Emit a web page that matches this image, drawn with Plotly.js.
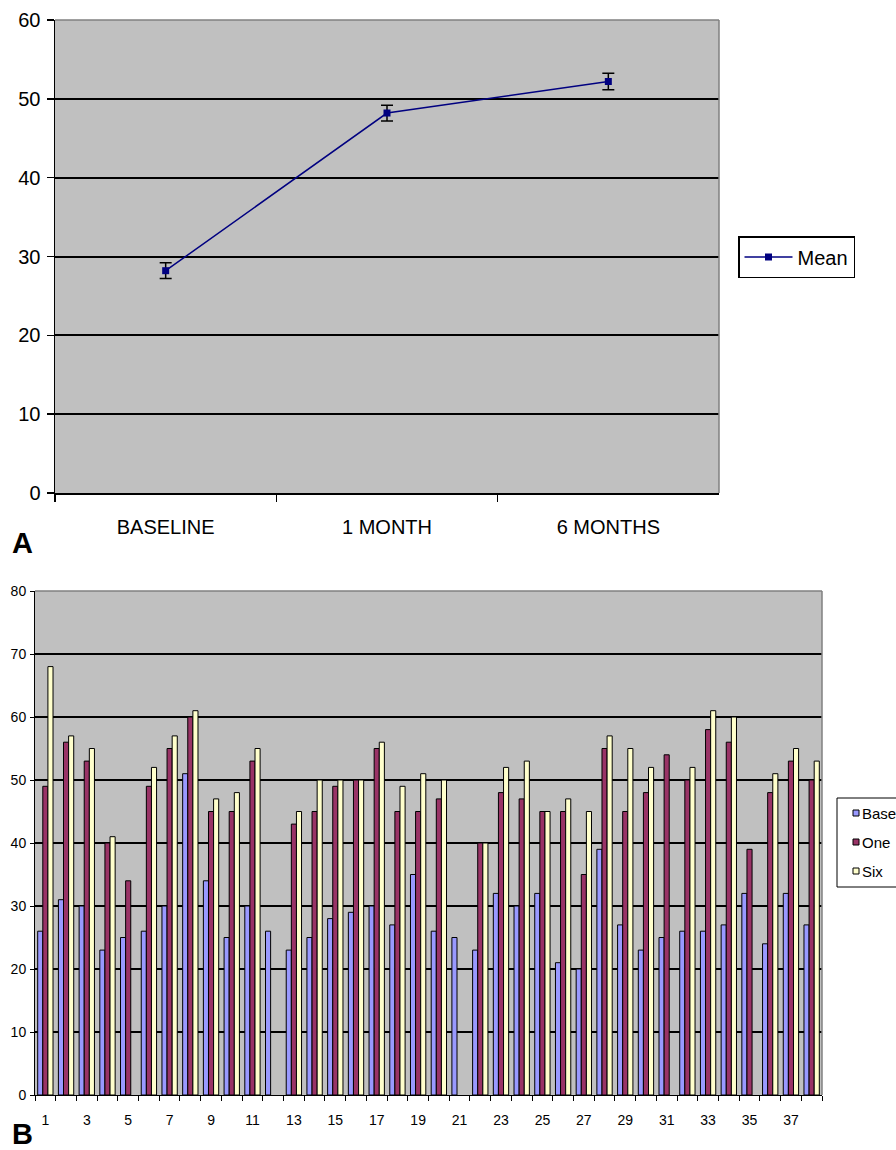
<!DOCTYPE html>
<html>
<head>
<meta charset="utf-8">
<script src="https://cdn.plot.ly/plotly-3.0.1.min.js"></script>
<style>html,body{margin:0;padding:0;background:#fff;}#chart{width:896px;height:1150px;}</style>
</head>
<body>
<div id="chart"></div>
<script>
// ---- Panel A data ----
const timepoints = ['BASELINE', '1 MONTH', '6 MONTHS'];
const meanValues = [28.2, 48.2, 52.2];
const meanErrors = [1.0, 1.0, 1.05];

// ---- Panel B data ----
const subjects = ['1','2','3','4','5','6','7','8','9','10','11','12','13','14','15','16','17','18','19','20','21','22','23','24','25','26','27','28','29','30','31','32','33','34','35','36','37','38'];
const baseValues = [26,31,30,23,25,26,30,51,34,25,30,26,23,25,28,29,30,27,35,26,25,23,32,30,32,21,20,39,27,23,25,26,26,27,32,24,32,27];
const oneValues  = [49,56,53,40,34,49,55,60,45,45,53,null,43,45,49,50,55,45,45,47,null,40,48,47,45,45,35,55,45,48,54,50,58,56,39,48,53,50];
const sixValues  = [68,57,55,41,null,52,57,61,47,48,55,null,45,50,50,50,56,49,51,50,null,40,52,53,45,47,45,57,55,52,null,52,61,60,null,51,55,53];
const seriesNames = ['Base', 'One', 'Six'];
const seriesColors = ['#9999FF', '#993366', '#FFFFCC'];

const FONT = 'Liberation Sans, Arial, sans-serif';
const W = 896, H = 1150;

const traces = [
  {
    type: 'scatter', mode: 'lines+markers', name: 'Mean',
    x: timepoints, y: meanValues,
    error_y: {type: 'data', array: meanErrors, visible: true, color: '#000000', thickness: 1.5, width: 6},
    line: {color: '#000080', width: 1.5},
    marker: {symbol: 'square', size: 7, color: '#000080'},
    xaxis: 'x', yaxis: 'y', legend: 'legend'
  }
];
const barSeries = [baseValues, oneValues, sixValues];
barSeries.forEach((vals, i) => {
  traces.push({
    type: 'bar', name: seriesNames[i], x: subjects, y: vals,
    marker: {color: seriesColors[i], line: {color: '#000000', width: 1}},
    xaxis: 'x2', yaxis: 'y2', showlegend: false
  });
});

const dA = {x0: 55 / W, x1: 719 / W, y0: 1 - 493 / H, y1: 1 - 20 / H};
const dB = {x0: 35 / W, x1: 822 / W, y0: 1 - 1095 / H, y1: 1 - 591 / H};

// Legend for panel B (drawn as shapes + text, like the original's clipped box)
const legB = {left: 837 / W, top: 1 - 798 / H, bottom: 1 - 887 / H, sq: 853, rowY: [813, 842, 871]};
const legendShapes = [
  {type: 'rect', xref: 'paper', yref: 'paper', x0: legB.left, x1: 1.05, y0: legB.bottom, y1: legB.top,
   line: {color: '#000000', width: 1}, fillcolor: '#ffffff'}
];
const legendTexts = [];
seriesNames.forEach((n, i) => {
  const cy = legB.rowY[i];
  legendShapes.push({type: 'rect', xref: 'paper', yref: 'paper',
    x0: legB.sq / W, x1: (legB.sq + 6) / W, y0: 1 - (cy + 3) / H, y1: 1 - (cy - 3) / H,
    line: {color: '#000000', width: 1}, fillcolor: seriesColors[i]});
  legendTexts.push({text: n, xref: 'paper', yref: 'paper', x: 860 / W, y: 1 - cy / H,
    xanchor: 'left', yanchor: 'middle', showarrow: false, font: {size: 15, family: FONT, color: '#000'}});
});

const layout = {
  width: W, height: H,
  margin: {l: 0, r: 0, t: 0, b: 0, autoexpand: false},
  paper_bgcolor: '#ffffff', plot_bgcolor: '#C0C0C0',
  font: {family: FONT, color: '#000000'},
  barmode: 'group', bargap: 0.26, bargroupgap: 0,
  xaxis: {
    domain: [dA.x0, dA.x1], anchor: 'y', type: 'category',
    range: [-0.5, 2.5], tickson: 'boundaries', ticks: 'outside', ticklen: 7,
    tickcolor: '#000', tickwidth: 1.5, showline: true, linecolor: '#000', linewidth: 1.5,
    showgrid: false, tickfont: {size: 20, family: FONT}, ticklabelstandoff: 15
  },
  yaxis: {
    domain: [dA.y0, dA.y1], anchor: 'x', range: [0, 60], dtick: 10,
    ticks: 'outside', ticklen: 7, tickcolor: '#000', tickwidth: 1.5,
    showline: true, linecolor: '#000', linewidth: 1.5,
    showgrid: true, gridcolor: '#000000', gridwidth: 2, zeroline: false,
    tickfont: {size: 20, family: FONT}, ticklabelstandoff: 2
  },
  xaxis2: {
    domain: [dB.x0, dB.x1], anchor: 'y2', type: 'category',
    range: [-0.5, subjects.length - 0.5], tickson: 'boundaries',
    tickmode: 'array', tickvals: subjects,
    ticktext: subjects.map((s, i) => (i % 2 === 0 ? s : '')),
    tickangle: 0,
    ticks: 'outside', ticklen: 5, tickcolor: '#000', tickwidth: 1,
    showline: true, linecolor: '#000', linewidth: 1, showgrid: false,
    tickfont: {size: 14, family: FONT}, ticklabelstandoff: 12
  },
  yaxis2: {
    domain: [dB.y0, dB.y1], anchor: 'x2', range: [0, 80], dtick: 10,
    ticks: 'outside', ticklen: 4, tickcolor: '#000', tickwidth: 1,
    showline: true, linecolor: '#000', linewidth: 1,
    showgrid: true, gridcolor: '#000000', gridwidth: 1.5, zeroline: false,
    tickfont: {size: 14, family: FONT}, ticklabelstandoff: 1
  },
  legend: {
    x: 738 / W, y: 1 - 236 / H, xanchor: 'left', yanchor: 'top',
    bgcolor: '#ffffff', bordercolor: '#000000', borderwidth: 1.5,
    font: {size: 20, family: FONT}, itemwidth: 48
  },
  showlegend: true,
  shapes: [
    {type: 'line', xref: 'paper', yref: 'paper', x0: dA.x0, x1: dA.x1, y0: dA.y1, y1: dA.y1, line: {color: '#808080', width: 1.5}},
    {type: 'line', xref: 'paper', yref: 'paper', x0: dA.x1, x1: dA.x1, y0: dA.y0, y1: dA.y1, line: {color: '#808080', width: 1.5}},
    {type: 'line', xref: 'paper', yref: 'paper', x0: dB.x0, x1: dB.x1, y0: dB.y1, y1: dB.y1, line: {color: '#808080', width: 1.5}},
    {type: 'line', xref: 'paper', yref: 'paper', x0: dB.x1, x1: dB.x1, y0: dB.y0, y1: dB.y1, line: {color: '#808080', width: 1.5}}
  ].concat(legendShapes),
  annotations: [
    {text: '<b>A</b>', xref: 'paper', yref: 'paper', x: 10 / W, y: 1 - 543 / H, xanchor: 'left', yanchor: 'middle', showarrow: false, font: {size: 29, family: FONT}},
    {text: '<b>B</b>', xref: 'paper', yref: 'paper', x: 10 / W, y: 1 - 1134 / H, xanchor: 'left', yanchor: 'middle', showarrow: false, font: {size: 29, family: FONT}}
  ].concat(legendTexts)
};

Plotly.newPlot('chart', traces, layout, {staticPlot: true, displayModeBar: false});
</script>
</body>
</html>
